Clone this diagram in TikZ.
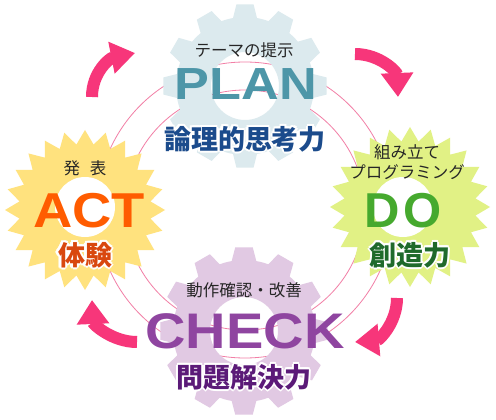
\documentclass[tikz,border=0pt]{standalone}
\usepackage{fontspec}
\setmainfont{Liberation Sans}
\newfontfamily\cjk{Noto Sans CJK JP}
\usetikzlibrary{arrows.meta}
\definecolor{gearblue}{HTML}{DCEAEE}
\definecolor{planC}{HTML}{4D96A8}
\definecolor{planJ}{HTML}{1B4B8C}
\definecolor{dostar}{HTML}{E1F185}
\definecolor{doC}{HTML}{46A92E}
\definecolor{doJ}{HTML}{1F6A2B}
\definecolor{actstar}{HTML}{FFE27E}
\definecolor{actC}{HTML}{FF5C00}
\definecolor{actJ}{HTML}{D9480F}
\definecolor{checkgear}{HTML}{E1C9E3}
\definecolor{checkC}{HTML}{8F45A0}
\definecolor{checkJ}{HTML}{5B1A78}
\definecolor{arrowpink}{HTML}{F7367A}
\definecolor{circpink}{HTML}{F27FA6}
\newcommand\outlinetxt[1]{\leavevmode\foreach \dx/\dy in {2/0,-2/0,0/2,0/-2,1.4/1.4,-1.4/1.4,1.4/-1.4,-1.4/-1.4}{\rlap{\kern\dx pt\raisebox{\dy pt}{\color{white}#1}}}#1}
\tikzset{
  bigword/.style={font=\fontsize{#1}{#1}\selectfont\bfseries, inner sep=0pt, anchor=base},
  jpsmall/.style={font=\cjk\fontsize{16.5}{20}\selectfont, inner sep=0pt, text=black!85},
  jpbold/.style={font=\cjk\bfseries\fontsize{27}{30}\selectfont, inner sep=0pt},
  cyc/.style={line width=12pt, draw=arrowpink, -{Triangle[width=31pt,length=24pt]}},
  ring/.style={draw=circpink, line width=0.8pt},
}
\begin{document}
\begin{tikzpicture}[x=1pt,y=-1pt]
\useasboundingbox[fill=white] (0,0) rectangle (496,420);
% rings
\coordinate (mid) at (245,210);
\draw[ring] (mid) circle (120);
\draw[ring] (mid) circle (148);
% PLAN gear
\fill[gearblue, even odd rule, shift={(245,86)}] (-6:82)
  \foreach \a in {0,30,...,330}{ -- (\a+6:82) -- (\a+10:69) arc[start angle=\a+10, end angle=\a+20, radius=69] -- (\a+24:82)} -- cycle
  (0,0) circle (34);
% CHECK gear
\fill[checkgear, even odd rule, shift={(244,331)}] (-6:84)
  \foreach \a in {0,30,...,330}{ -- (\a+6:84) -- (\a+10:71) arc[start angle=\a+10, end angle=\a+20, radius=71] -- (\a+24:84)} -- cycle
  (0,0) circle (34);
% DO star
\fill[dostar, shift={(410,207)}] (0:80)
  \foreach \a in {0,15,...,345}{ -- (\a+7.5:66) -- (\a+15:80)} -- cycle;
\fill[white] (403,207) circle (30);
% ACT star
\fill[actstar, shift={(85,210)}] (0:80)
  \foreach \a in {0,15,...,345}{ -- (\a+7.5:66) -- (\a+15:80)} -- cycle;
\fill[white] (85,207) circle (30);
% cycle arrows
\coordinate (a1s) at (92,97);   \coordinate (a1e) at (135,53);
\coordinate (a2s) at (355,54);  \coordinate (a2e) at (398,97);
\coordinate (a3s) at (397,298); \coordinate (a3e) at (355,342);
\coordinate (a4s) at (137,342); \coordinate (a4e) at (92,300);
\draw[cyc] (a1s) .. controls (92,72) and (110,58) .. (a1e);
\draw[cyc] (a2s) .. controls (380,54) and (397,72) .. (a2e);
\draw[cyc] (a3s) .. controls (397,323) and (379,340) .. (a3e);
\draw[cyc] (a4s) .. controls (112,342) and (93,324) .. (a4e);
% PLAN
\node[jpsmall] (plant) at (244,50) {テーマの提示};
\node[bigword=45, text=planC] (planw) at (246,100) {\scalebox{1.16}[1]{PLAN}};
\node[jpbold, text=planJ] (planj) at (245,139) {\outlinetxt{論理的思考力}};
% DO
\node[jpsmall] (do1) at (407,152) {組み立て};
\node[jpsmall] (do2) at (407,172) {プログラミング};
\node[bigword=49, text=doC] (dod) at (382,227) {D};
\node[bigword=49, text=doC] (doo) at (423,227) {O};
\node[jpbold, text=doJ] (doj) at (410,255) {\outlinetxt{創造力}};
% ACT
\node[jpsmall] (actt) at (85,168) {発\kern10pt 表};
\node[bigword=49, text=actC] (actw) at (89,227) {\scalebox{1.11}[1]{ACT}};
\node[jpbold, text=actJ] (actj) at (85,255) {\outlinetxt{体験}};
% CHECK
\node[jpsmall] (checkt) at (244,290) {動作確認・改善};
\node[bigword=50, text=checkC] (checkw) at (245,348) {\scalebox{1.12}[1]{CHECK}};
\node[jpbold, text=checkJ] (checkj) at (244,377) {\outlinetxt{問題解決力}};
\end{tikzpicture}
\end{document}
